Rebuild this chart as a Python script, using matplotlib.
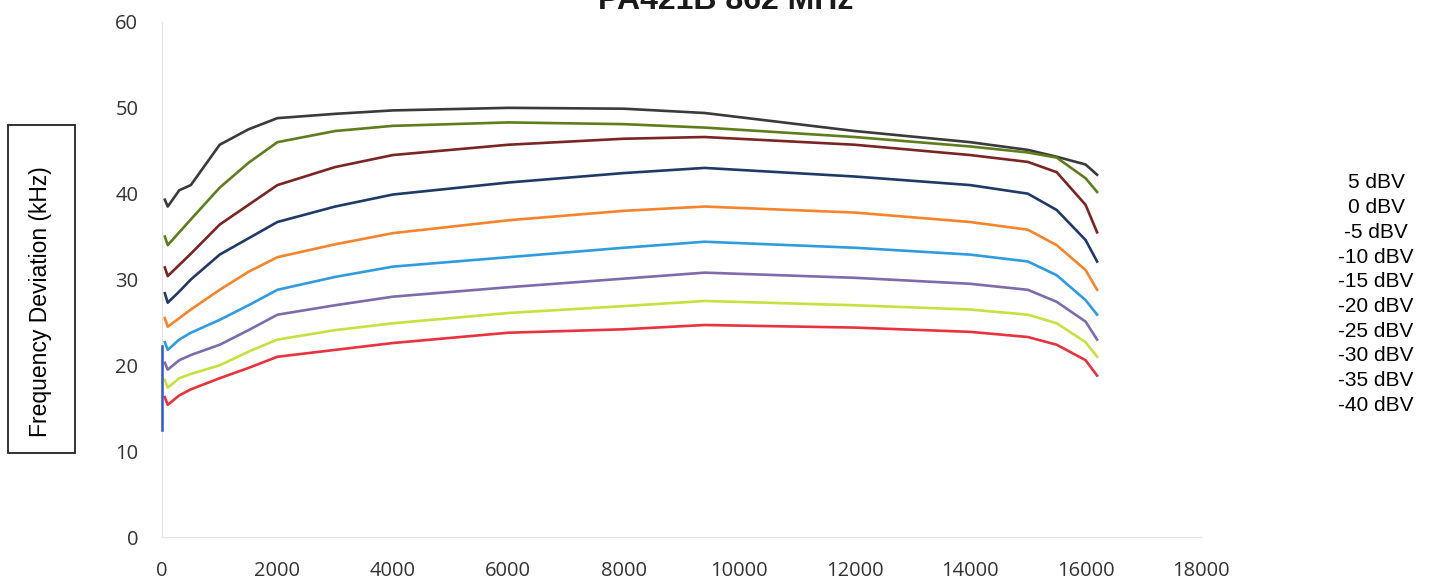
import matplotlib
matplotlib.use("Agg")
import matplotlib.pyplot as plt
from matplotlib.patches import Rectangle

# frequency points (Hz)
freq = [50, 100, 300, 500, 1000, 1500, 2000, 3000, 4000, 6000, 8000, 9400,
        12000, 14000, 15000, 15500, 16000, 16200]

# deviation (kHz) for each input level
dev_5 = [39.3, 38.5, 40.4, 41.0, 45.7, 47.5, 48.8, 49.3, 49.7, 50.0, 49.9, 49.4,
         47.3, 46.0, 45.1, 44.3, 43.4, 42.2]
dev_0 = [35.0, 34.0, 35.5, 37.0, 40.7, 43.6, 46.0, 47.3, 47.9, 48.3, 48.1, 47.7,
         46.6, 45.5, 44.8, 44.2, 41.8, 40.2]
dev_m5 = [31.4, 30.4, 31.7, 33.0, 36.4, 38.7, 41.0, 43.1, 44.5, 45.7, 46.4, 46.6,
          45.7, 44.5, 43.7, 42.5, 38.7, 35.5]
dev_m10 = [28.4, 27.3, 28.6, 30.0, 32.9, 34.8, 36.7, 38.5, 39.9, 41.3, 42.4, 43.0,
           42.0, 41.0, 40.0, 38.1, 34.6, 32.1]
dev_m15 = [25.5, 24.5, 25.5, 26.5, 28.8, 30.9, 32.6, 34.1, 35.4, 36.9, 38.0, 38.5,
           37.8, 36.7, 35.8, 34.0, 31.1, 28.8]
dev_m20 = [22.7, 21.8, 23.0, 23.8, 25.3, 27.0, 28.8, 30.3, 31.5, 32.6, 33.7, 34.4,
           33.7, 32.9, 32.1, 30.5, 27.6, 25.9]
dev_m25 = [20.3, 19.5, 20.6, 21.2, 22.4, 24.1, 25.9, 27.0, 28.0, 29.1, 30.1, 30.8,
           30.2, 29.5, 28.8, 27.4, 25.1, 23.0]
dev_m30 = [18.3, 17.4, 18.5, 19.0, 20.0, 21.6, 23.0, 24.1, 24.9, 26.1, 26.9, 27.5,
           27.0, 26.5, 25.9, 24.9, 22.7, 21.0]
dev_m35 = [16.3, 15.4, 16.5, 17.2, 18.5, 19.7, 21.0, 21.8, 22.6, 23.8, 24.2, 24.7,
           24.4, 23.9, 23.3, 22.4, 20.6, 18.8]
# -40 dBV only shows as a vertical stroke at the left edge
freq_m40 = [0, 0]
dev_m40 = [12.5, 22.3]

labels = ["5 dBV", "0 dBV", "-5 dBV", "-10 dBV", "-15 dBV", "-20 dBV",
          "-25 dBV", "-30 dBV", "-35 dBV", "-40 dBV"]
colors = ["#3a3a3a", "#5e7d1c", "#7a2424", "#1f3a66", "#f5842c", "#2f9be0",
          "#7e6bab", "#c8e040", "#e8323e", "#2f55d4"]

series = [dev_5, dev_0, dev_m5, dev_m10, dev_m15, dev_m20, dev_m25, dev_m30, dev_m35]

fig = plt.figure(figsize=(14.32, 5.82), dpi=100)
ax = fig.add_axes([0.1131, 0.0773, 0.7256, 0.8849])

for d, c in zip(series, colors[:9]):
    ax.plot(freq, d, color=c, lw=1.9, solid_joinstyle="round")
ax.plot(freq_m40, dev_m40, color=colors[9], lw=1.8, clip_on=False, zorder=5)

ax.set_xlim(0, 18000)
ax.set_ylim(0, 60)
ax.set_xticks(range(0, 18001, 2000))
ax.set_yticks(range(0, 61, 10))
ax.tick_params(length=0, labelsize=14.5, labelcolor="#333333", pad=17)
for lab in ax.get_xticklabels() + ax.get_yticklabels():
    lab.set_fontfamily("Open Sans")
for s in ["top", "right"]:
    ax.spines[s].set_visible(False)
for s in ["left", "bottom"]:
    ax.spines[s].set_color("#e4e4e4")

# title is partly cut off at the top, as in the original
fig.text(726 / 1432, 1 - 9 / 582, "PA421B 862 MHz", ha="center", va="baseline",
         fontsize=23, fontweight="bold", family="Liberation Sans", color="#1a1a1a")

# boxed y label
fig.patches.append(Rectangle((8 / 1432, 1 - 453 / 582), 67 / 1432, 328 / 582,
                             transform=fig.transFigure, fill=False,
                             edgecolor="#222222", lw=1.3))
fig.text(41 / 1432, 1 - 302 / 582, "Frequency Deviation (kHz)", rotation=90,
         ha="center", va="center", fontsize=16.5, family="Liberation Sans")

# legend text only
for i, lab in enumerate(labels):
    fig.text(1376 / 1432, 1 - (183 + i * 24.7) / 582, lab, ha="center",
             va="center", fontsize=15, family="Liberation Sans")

fig.savefig("out.png", dpi=100)
